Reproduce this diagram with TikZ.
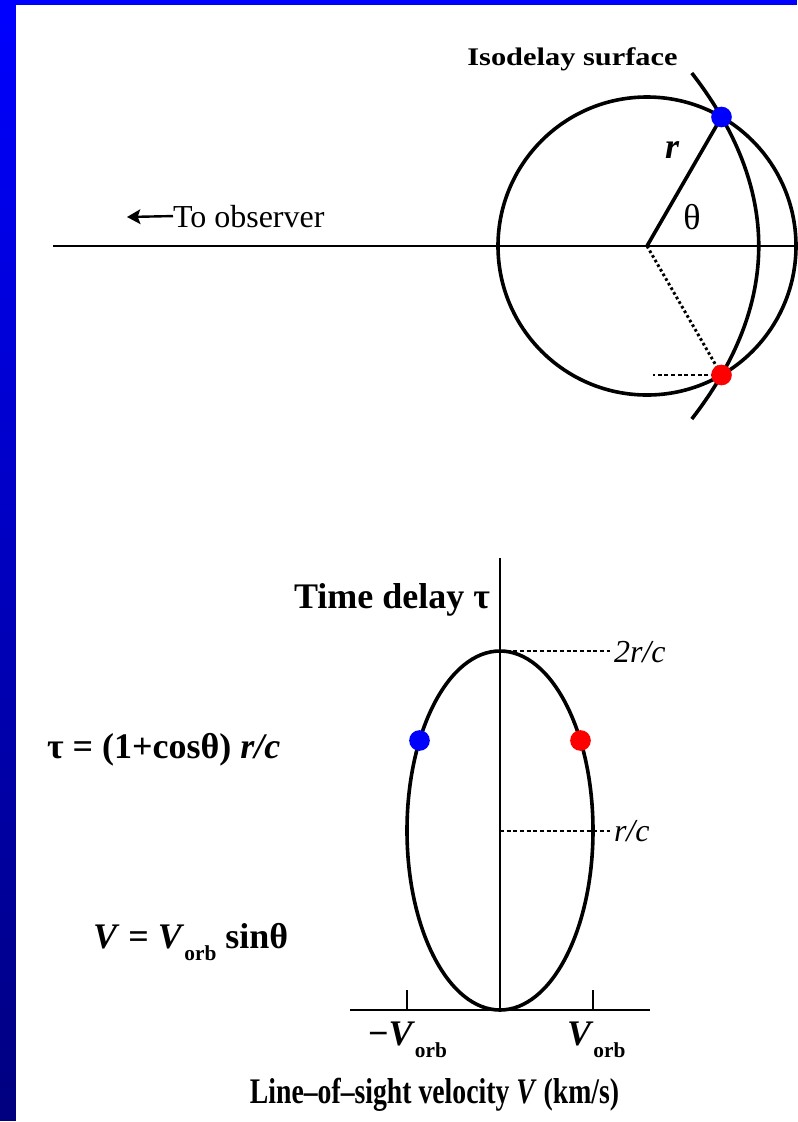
\documentclass[tikz,border=0pt]{standalone}
\usepackage{fontspec}
\setmainfont{Liberation Serif}
\usetikzlibrary{arrows.meta}
\definecolor{bluec}{RGB}{0,0,255}
\definecolor{navyc}{RGB}{0,0,128}
\definecolor{redc}{RGB}{255,0,0}
\newcommand{\orbsub}{\raisebox{-9pt}{\fontsize{16}{16}\selectfont\bfseries orb}}
\begin{document}
\begin{tikzpicture}[x=0.75pt,y=-0.75pt,
  txt/.style={inner sep=0pt, outer sep=0pt},
  big/.style={txt, font=\fontsize{27}{30}\selectfont\bfseries},
  thickline/.style={line width=2.7pt},
  axisline/.style={line width=1.6pt},
  dotline/.style={line width=2.2pt, dash pattern=on 2pt off 2pt},
  dashline/.style={line width=1.2pt, dash pattern=on 3pt off 2pt},
  dot/.style={circle, inner sep=0pt, minimum size=15.5pt},
]
\useasboundingbox (0,0) rectangle (797,1122);
\fill[white] (0,0) rectangle (797,1122);
% frame
\foreach \i in {0,...,111}{
  \pgfmathsetmacro\t{100*\i/111}
  \fill[navyc!\t!bluec] (0,{\i*10}) rectangle (16,{\i*10+10.5});
}
\fill[bluec] (0,0) rectangle (797,5);

% ---------- top diagram ----------
\coordinate (ctr) at (647,246);
\coordinate (axL) at (53,246);
\coordinate (axR) at (797,246);
\coordinate (bpos) at (721.5,117);
\coordinate (rpos) at (721.5,375);
\coordinate (rdash) at (653,375);
\coordinate (isoT) at (691.8,73);
\coordinate (isoB) at (691.8,419);
\draw[axisline] (axL) -- (axR);
\draw[thickline] (ctr) circle[radius=149];
\draw[thickline] (isoT) .. controls (781.07,188.33) and (781.07,303.67) .. (isoB);
\draw[thickline] (ctr) -- (bpos);
\draw[dotline] (ctr) -- (rpos);
\draw[dashline] (rpos) -- (rdash);
\node[dot, fill=bluec] (bdot) at (bpos) {};
\node[dot, fill=redc] (rdot) at (rpos) {};

\node[txt, font=\fontsize{19}{20}\selectfont\bfseries, anchor=base] (iso) at (572.5,65) {\scalebox{1.2}[1]{Isodelay surface}};
\node[txt, font=\fontsize{27}{30}\selectfont\bfseries\itshape] (rlab) at (672,150) {r};
\node[txt, font=\fontsize{27}{28}\selectfont] (thlab) at (692,217) {θ};
\node[txt, font=\fontsize{24}{26}\selectfont, anchor=base west] (toobs) at (173,227) {To observer};
\coordinate (obsTip) at (127,217);
\draw[line width=1.8pt, -{Stealth[length=10pt,width=11pt,inset=2pt]}] (toobs.west) -- (obsTip);

% ---------- bottom diagram ----------
\coordinate (o) at (500,1010);
\coordinate (vtop) at (500,558);
\coordinate (hL) at (350,1010);
\coordinate (hR) at (650,1010);
\coordinate (tLb) at (407,1010);
\coordinate (tLt) at (407,990);
\coordinate (tRb) at (593,1010);
\coordinate (tRt) at (593,990);
\coordinate (ec) at (500,830.5);
\coordinate (top2) at (500,651);
\coordinate (top2e) at (610,651);
\coordinate (mid1) at (500,831);
\coordinate (mid1e) at (610,831);
\coordinate (bpos2) at (419.5,740.5);
\coordinate (rpos2) at (580.5,740.5);
\draw[axisline] (o) -- (vtop);
\draw[axisline] (hL) -- (hR);
\draw[axisline] (tLb) -- (tLt);
\draw[axisline] (tRb) -- (tRt);
\draw[dashline] (top2) -- (top2e);
\draw[dashline] (mid1) -- (mid1e);
\draw[thickline] (ec) ellipse[x radius=93, y radius=179.5];
\node[dot, fill=bluec] (bdot2) at (bpos2) {};
\node[dot, fill=redc] (rdot2) at (rpos2) {};

\node[big, anchor=base east] (tdelay) at (490,608) {Time delay τ};
\node[txt, font=\fontsize{24}{26}\selectfont\itshape, anchor=base west] (l2rc) at (614,662) {2r/c};
\node[txt, font=\fontsize{24}{26}\selectfont\itshape, anchor=base west] (lrc) at (614,841) {r/c};
\node[big, anchor=base west] (tauf) at (47,758) {τ = (1+cosθ) \textit{r/c}};
\node[big, anchor=base west] (vf) at (93,948) {\textit{V} = \textit{V}\orbsub\ sinθ};
\node[big, anchor=base west] (mvorb) at (368,1045) {−\textit{V}\orbsub};
\node[big, anchor=base west] (pvorb) at (567,1045) {\textit{V}\orbsub};
\node[big, anchor=base] (xlab) at (434.5,1103) {\scalebox{0.77}[1]{Line–of–sight velocity \textit{V} (km/s)}};
\end{tikzpicture}
\end{document}
